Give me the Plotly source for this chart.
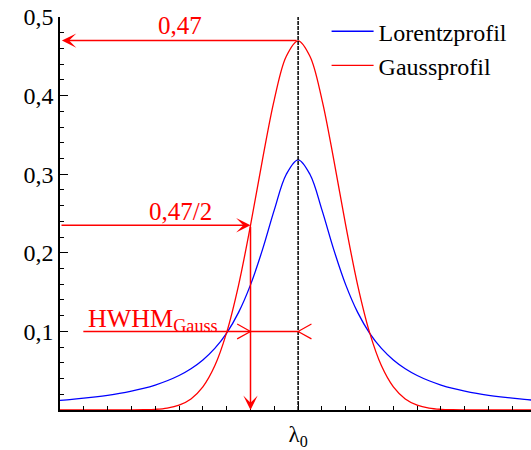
import plotly.graph_objects as go

# ---- data ----
x_pos = [-5.0, -4.75, -4.5, -4.25, -4.0, -3.75, -3.5, -3.25, -3.0, -2.75, -2.5,
         -2.25, -2.0, -1.75, -1.5, -1.25, -1.0, -0.75, -0.5, -0.25, 0.0,
         0.25, 0.5, 0.75, 1.0, 1.25, 1.5, 1.75, 2.0, 2.25, 2.5,
         2.75, 3.0, 3.25, 3.5, 3.75, 4.0, 4.25, 4.5, 4.75, 5.0]

lorentz = [0.0122, 0.0135, 0.0150, 0.0167, 0.0187, 0.0211, 0.0240, 0.0275, 0.0318, 0.0372, 0.0439,
           0.0525, 0.0637, 0.0784, 0.0979, 0.1242, 0.1592, 0.2037, 0.2546, 0.2996, 0.3183,
           0.2996, 0.2546, 0.2037, 0.1592, 0.1242, 0.0979, 0.0784, 0.0637, 0.0525, 0.0439,
           0.0372, 0.0318, 0.0275, 0.0240, 0.0211, 0.0187, 0.0167, 0.0150, 0.0135, 0.0122]

gauss = [0.0, 0.0, 0.0, 0.0, 0.0, 0.0, 0.0001, 0.0003, 0.0009, 0.0025, 0.0062,
         0.0141, 0.0294, 0.0562, 0.0987, 0.1590, 0.2349, 0.3180, 0.3950, 0.4498, 0.4697,
         0.4498, 0.3950, 0.3180, 0.2349, 0.1590, 0.0987, 0.0562, 0.0294, 0.0141, 0.0062,
         0.0025, 0.0009, 0.0003, 0.0001, 0.0, 0.0, 0.0, 0.0, 0.0, 0.0]

series_names = ["Lorentzprofil", "Gaussprofil"]

y_tickvals = [0.1, 0.2, 0.3, 0.4, 0.5]
y_ticktext = ["0,1", "0,2", "0,3", "0,4", "0,5"]
x_tickvals = [0]
x_ticktext = ["λ<sub>0</sub>"]
x_major_ticks = [-4, -2, 2, 4]

peak_gauss = 0.47
half_gauss = 0.235
hwhm_level = 0.1
hwhm = 1.0

RED = "#ff0000"
BLUE = "#0000ff"
FONT = "Liberation Serif, Times New Roman, serif"
X_RANGE = [-5, 4.89]

fig = go.Figure()
fig.add_trace(go.Scatter(x=x_pos, y=lorentz, mode="lines", name=series_names[0],
                         line=dict(color=BLUE, width=1.3, shape="spline")))
fig.add_trace(go.Scatter(x=x_pos, y=gauss, mode="lines", name=series_names[1],
                         line=dict(color=RED, width=1.3, shape="spline")))

shapes = []
# centre line
shapes.append(dict(type="line", xref="x", yref="y", x0=0, x1=0, y0=0, y1=0.5,
                   line=dict(color="black", width=1.5, dash="4px,1px")))
# HWHM line
shapes.append(dict(type="line", xref="x", yref="y", x0=-4.51, x1=0, y0=hwhm_level, y1=hwhm_level,
                   line=dict(color=RED, width=1.5)))
# open chevrons
for tip, back in [(-hwhm, -hwhm - 0.28), (0, 0.28)]:
    shapes.append(dict(type="path", xref="x", yref="y",
                       path=f"M{back},{hwhm_level + 0.0095} L{tip},{hwhm_level} L{back},{hwhm_level - 0.0095}",
                       line=dict(color=RED, width=1.2)))

annotations = []
arrow_common = dict(xref="x", yref="y", axref="x", ayref="y", text="", showarrow=True,
                    arrowhead=3, arrowsize=1.6, arrowwidth=1.5, arrowcolor=RED, standoff=0)
annotations.append(dict(x=-4.96, y=peak_gauss, ax=0, ay=peak_gauss, **arrow_common))
annotations.append(dict(x=-hwhm, y=half_gauss, ax=-5, ay=half_gauss, **arrow_common))
annotations.append(dict(x=-hwhm, y=0, ax=-hwhm, ay=half_gauss, **arrow_common))

annotations.append(dict(x=-2.49, y=0.489, xref="x", yref="y", text="0,47", showarrow=False,
                        font=dict(family=FONT, size=25, color=RED)))
annotations.append(dict(x=-2.48, y=0.252, xref="x", yref="y", text="0,47/2", showarrow=False,
                        font=dict(family=FONT, size=25, color=RED)))
annotations.append(dict(x=-4.46, y=0.114, xref="x", yref="y", xanchor="left",
                        text="HWHM<sub>Gauss</sub>", showarrow=False,
                        font=dict(family=FONT, size=26, color=RED)))

fig.update_layout(
    width=531, height=450,
    margin=dict(l=60, r=0, t=17, b=40),
    paper_bgcolor="white", plot_bgcolor="white",
    font=dict(family=FONT, color="black"),
    shapes=shapes, annotations=annotations,
    showlegend=True,
    legend=dict(x=0.566, y=1.02, xanchor="left", yanchor="top", xref="paper", yref="paper",
                bgcolor="rgba(0,0,0,0)", font=dict(family=FONT, size=24, color="black"),
                itemwidth=42, tracegroupgap=0),
    xaxis=dict(range=X_RANGE, showgrid=False, zeroline=False, showline=True, automargin=False,
               linecolor="black", linewidth=1.5, ticks="inside", ticklen=8, tickwidth=1.3,
               tickcolor="black", tickvals=x_tickvals, ticktext=x_ticktext,
               tickfont=dict(family=FONT, size=23, color="black"), ticklabelstandoff=3,
               minor=dict(dtick=0.5, tick0=0, ticks="inside", ticklen=4, tickwidth=1.2, tickcolor="black")),
    xaxis2=dict(range=X_RANGE, overlaying="x", anchor="y", side="bottom", showgrid=False,
                zeroline=False, showline=False, showticklabels=False, automargin=False,
                ticks="inside", ticklen=8, tickwidth=1.3, tickcolor="black",
                tickvals=x_major_ticks),
    yaxis=dict(range=[0, 0.5], showgrid=False, zeroline=False, showline=True, automargin=False,
               linecolor="black", linewidth=1.5, ticks="inside", ticklen=8, tickwidth=1.3,
               tickcolor="black", tickvals=y_tickvals, ticktext=y_ticktext,
               tickfont=dict(family=FONT, size=24, color="black"), ticklabelstandoff=0,
               minor=dict(dtick=0.02, tick0=0, ticks="inside", ticklen=4, tickwidth=1.2, tickcolor="black")),
)

fig.write_html("out.html")
